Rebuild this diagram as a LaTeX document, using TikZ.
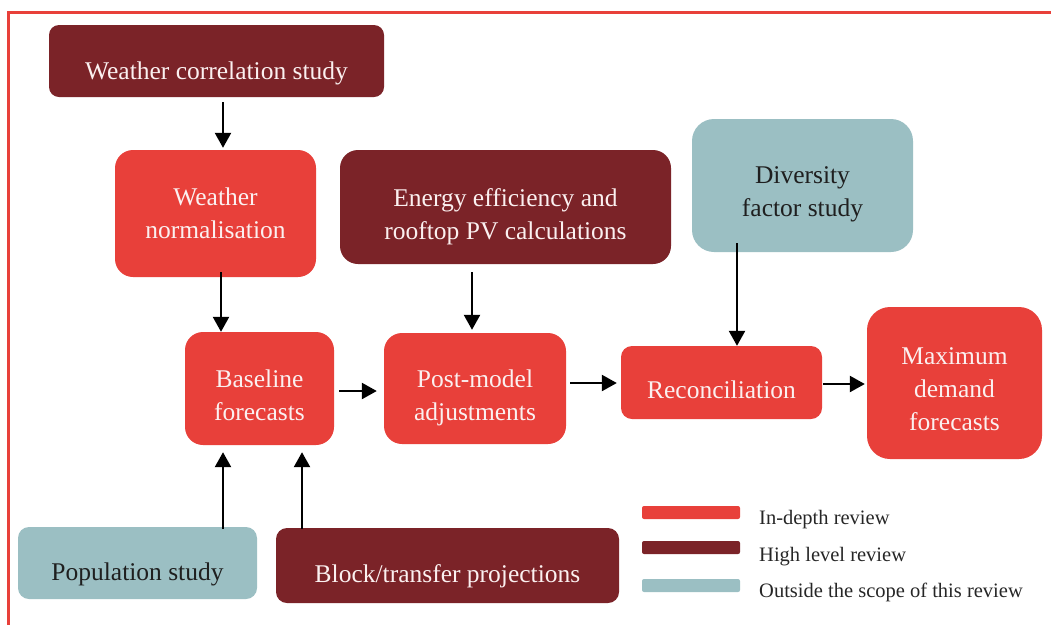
\documentclass[tikz,border=0pt]{standalone}
\usepackage{fontspec}
\setmainfont{Liberation Serif}
\usetikzlibrary{arrows.meta}
\definecolor{revred}{HTML}{E8403A}
\definecolor{revdark}{HTML}{7B2328}
\definecolor{revteal}{HTML}{9BBFC3}
\definecolor{boxtext}{HTML}{FBF0F0}
\newcommand{\boxlift}[1][28pt]{\rule{0pt}{#1}}

\begin{document}
\begin{tikzpicture}[x=1pt, y=-1pt,
  box/.style={rounded corners=18pt, align=center, inner sep=0pt,
    font=\fontsize{25.5}{33}\selectfont},
  indepth/.style={box, fill=revred, text=boxtext},
  highlevel/.style={box, fill=revdark, text=boxtext},
  outscope/.style={box, fill=revteal, text=black!88},
  flow/.style={-{Triangle[length=15pt, width=16pt]}, line width=2.4pt},
  keytext/.style={anchor=base west, inner sep=0pt, text=black!85,
    font=\fontsize{20.5}{24}\selectfont}]
  \useasboundingbox (0,0) rectangle (1051,625);
  \draw[revred, line width=3pt] (1051,12) -- (8,12) -- (8,625);

  \node[highlevel, rounded corners=10pt, minimum width=335pt, minimum height=72pt]
    (wcorr) at (216.5,61) {\boxlift[42pt]Weather correlation study};
  \node[indepth, minimum width=201pt, minimum height=127pt]
    (wnorm) at (215.5,213.5) {\boxlift[18pt]Weather\\normalisation};
  \node[highlevel, minimum width=331pt, minimum height=114pt]
    (energy) at (505.5,207) {\boxlift[37pt]Energy efficiency and\\rooftop PV calculations};
  \node[outscope, rounded corners=22pt, minimum width=221pt, minimum height=133pt]
    (div) at (802.5,185.5) {\boxlift[34pt]Diversity\\factor study};
  \node[indepth, minimum width=149pt, minimum height=113pt]
    (base) at (259.5,388.5) {\boxlift[32pt]Baseline\\forecasts};
  \node[indepth, minimum width=182pt, minimum height=111pt]
    (post) at (475,388.5) {\boxlift[36pt]Post-model\\adjustments};
  \node[indepth, rounded corners=11pt, minimum width=201pt, minimum height=73pt]
    (recon) at (721.5,382.5) {\boxlift[32pt]Reconciliation};
  \node[indepth, rounded corners=23pt, minimum width=175pt, minimum height=152pt]
    (maxd) at (954.5,383) {\boxlift[30pt]Maximum\\demand\\forecasts};
  \node[outscope, rounded corners=11pt, minimum width=239pt, minimum height=72pt]
    (pop) at (137.5,563) {\boxlift[40pt]Population study};
  \node[highlevel, rounded corners=11pt, minimum width=343pt, minimum height=75pt]
    (block) at (447.5,565.5) {\boxlift[40pt]Block/transfer projections};

  \draw[flow, shorten <=5pt, shorten >=2pt] ([xshift=6.5pt]wcorr.south) -- ([xshift=7.5pt]wnorm.north);
  \draw[flow, shorten <=-5pt] ([xshift=5.5pt]wnorm.south) -- ([xshift=-38.5pt]base.north);
  \draw[flow, shorten <=8pt, shorten >=3pt] ([xshift=-33.5pt]energy.south) -- ([xshift=-3pt]post.north);
  \draw[flow, shorten <=-9pt] ([xshift=-65.5pt]div.south) -- ([xshift=15.5pt]recon.north);
  \draw[flow, shorten <=5pt, shorten >=7pt] ([yshift=-2.5pt]base.east) -- ([yshift=-2.5pt]post.west);
  \draw[flow, shorten <=4pt, shorten >=4pt] ([yshift=5.5pt]post.east) -- ([yshift=-0.5pt]recon.west);
  \draw[flow, shorten <=1pt, shorten >=2pt] ([yshift=-1.5pt]recon.east) -- ([yshift=-1pt]maxd.west);
  \draw[flow, shorten <=-2pt, shorten >=7pt] ([xshift=85.5pt]pop.north) -- ([xshift=-36.5pt]base.south);
  \draw[flow, shorten <=-1pt, shorten >=7pt] ([xshift=-145.5pt]block.north) -- ([xshift=42.5pt]base.south);

  \foreach \i/\col/\yy/\yb/\txt in {1/revred/512.5/524/In-depth review,
      2/revdark/547.5/561/High level review,
      3/revteal/585.5/597/Outside the scope of this review} {
    \fill[\col, rounded corners=2pt] (642,\yy-6.5) rectangle (740,\yy+6.5);
    \node[keytext] (key\i) at (759,\yb) {\txt};
  }
\end{tikzpicture}
\end{document}
